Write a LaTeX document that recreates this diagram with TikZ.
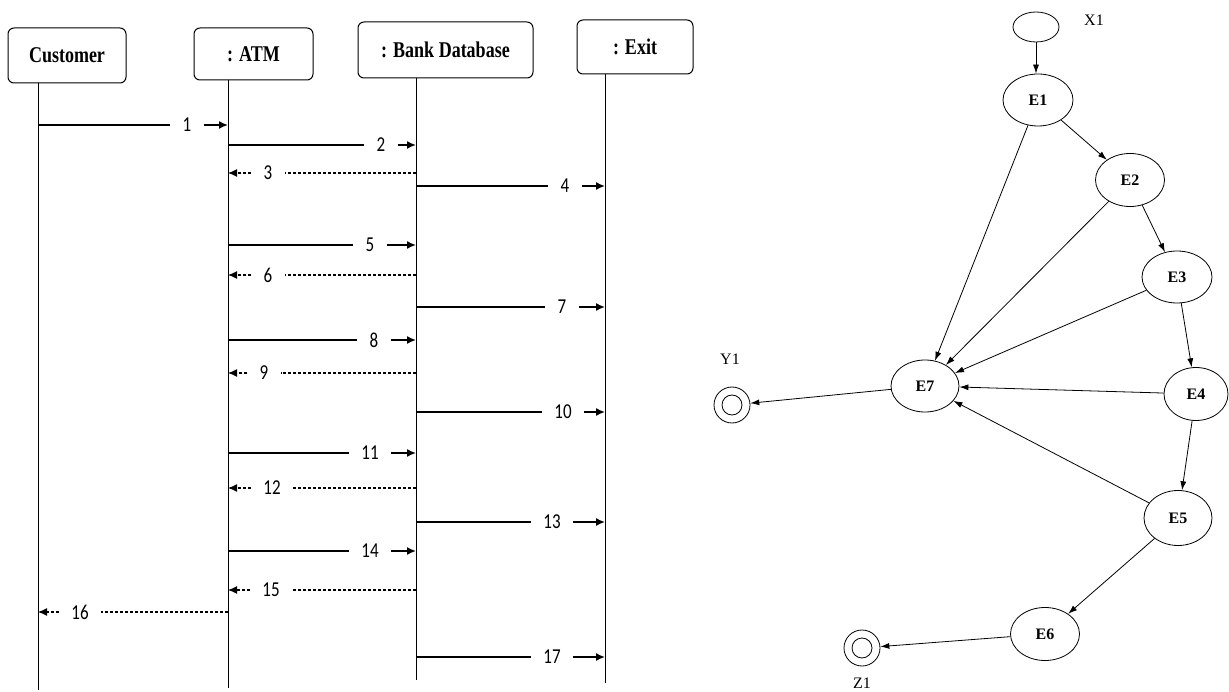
\documentclass[tikz,border=0pt]{standalone}
\usepackage{fontspec}
\setmainfont{Liberation Serif}
\newfontfamily\numfont{Carlito}
\usepackage{graphicx}
\usetikzlibrary{shapes.geometric,arrows.meta}
\newcommand\vstretch[1]{\scalebox{1}[1.25]{#1}}
\newcommand\fwdmsg[6]{%
  \node[num] (#1) at (#5,#4) {\vstretch{#6}};
  \draw[msg] (#2 |- #1.center) -- (#1.west);
  \draw[msgtip] (#1.east) -- (#3 |- #1.center);
}
\newcommand\retmsg[6]{%
  \node[num] (#1) at (#5,#4) {\vstretch{#6}};
  \draw[ret] (#2 |- #1.center) -- (#1.east);
  \draw[rettip] (#1.west) -- (#3 |- #1.center);
}
\tikzset{
  actor/.style={draw, rounded corners=6pt, line width=1pt, inner sep=0pt,
    font=\fontsize{18}{20}\selectfont\bfseries},
  life/.style={line width=1pt},
  num/.style={inner xsep=12pt, inner ysep=0pt, font=\numfont\fontsize{17}{18}\selectfont},
  msg/.style={line width=1.3pt},
  msgtip/.style={line width=1.6pt, -{Latex[length=9pt,width=8pt]}},
  ret/.style={line width=1.2pt, dash pattern=on 3pt off 2pt},
  rettip/.style={ret, -{Latex[length=9pt,width=8pt]}},
  st/.style={draw, ellipse, line width=0.8pt, inner sep=0pt,
    font=\fontsize{16}{18}\selectfont\bfseries},
  edge/.style={line width=0.8pt, -{Latex[length=9pt,width=6pt]}},
  term/.style={draw, circle, line width=0.8pt, minimum size=36pt, inner sep=0pt,
    path picture={\draw[line width=0.8pt] (path picture bounding box.center) circle (10pt);}},
  lbl/.style={font=\fontsize{16}{18}\selectfont, inner sep=0pt}
}
\begin{document}
\begin{tikzpicture}[x=1pt, y=-1pt]
\useasboundingbox (0,0) rectangle (1229,692);
% ---------- sequence diagram ----------
\node[actor, minimum width=118pt, minimum height=55pt] (cust) at (67,55.5) {\vstretch{Customer}};
\node[actor, minimum width=119pt, minimum height=52pt] (atm) at (253.5,54) {\vstretch{: ATM}};
\node[actor, minimum width=175pt, minimum height=56pt] (bank) at (445.5,50) {\vstretch{: Bank Database}};
\node[actor, minimum width=116pt, minimum height=54pt] (exit) at (635,47) {\vstretch{: Exit}};
\coordinate (lc) at (38,83);  \coordinate (lcB) at (38,690);
\coordinate (la) at (228,80); \coordinate (laB) at (228,688);
\coordinate (lb) at (416,78); \coordinate (lbB) at (416,680);
\coordinate (le) at (605,74); \coordinate (leB) at (605,683);
\draw[life] (lc) -- (lcB);
\draw[life] (la) -- (laB);
\draw[life] (lb) -- (lbB);
\draw[life] (le) -- (leB);
\fwdmsg{m1}{lc}{la}{125}{187}{1}
\fwdmsg{m2}{la}{lb}{145}{381}{2}
\retmsg{m3}{lb}{la}{173}{268}{3}
\fwdmsg{m4}{lb}{le}{186}{565}{4}
\fwdmsg{m5}{la}{lb}{245}{370}{5}
\retmsg{m6}{lb}{la}{275}{268}{6}
\fwdmsg{m7}{lb}{le}{307}{562}{7}
\fwdmsg{m8}{la}{lb}{340}{374}{8}
\retmsg{m9}{lb}{la}{373}{264}{9}
\fwdmsg{m10}{lb}{le}{412}{563}{10}
\fwdmsg{m11}{la}{lb}{453}{370}{11}
\retmsg{m12}{lb}{la}{488}{272}{12}
\fwdmsg{m13}{lb}{le}{522}{552}{13}
\fwdmsg{m14}{la}{lb}{551}{370}{14}
\retmsg{m15}{lb}{la}{590}{271}{15}
\retmsg{m16}{la}{lc}{612}{80}{16}
\fwdmsg{m17}{lb}{le}{657}{552}{17}
% ---------- graph ----------
\node[st, minimum width=46pt, minimum height=30pt] (X1) at (1036,27) {};
\node[st, minimum width=70pt, minimum height=52pt] (E1) at (1038,100) {E1};
\node[st, minimum width=69pt, minimum height=53pt] (E2) at (1130,180) {E2};
\node[st, minimum width=70pt, minimum height=52pt] (E3) at (1177,277) {E3};
\node[st, minimum width=64pt, minimum height=53pt] (E4) at (1196,394) {E4};
\node[st, minimum width=68pt, minimum height=55pt] (E5) at (1178,518) {E5};
\node[st, minimum width=69pt, minimum height=53pt] (E6) at (1045,634) {E6};
\node[st, minimum width=68pt, minimum height=52pt] (E7) at (925,386) {E7};
\node[term] (Y1) at (732,405) {};
\node[term] (Z1) at (862,648) {};
\node[lbl] (X1l) at (1094,20) {X1};
\node[lbl] (Y1l) at (730,359) {Y1};
\node[lbl] (Z1l) at (862,683) {Z1};
\draw[edge] (X1.south) -- (X1.south |- E1.north);
\draw[edge] (E1) -- (E2);
\draw[edge] (E1) -- (E7);
\draw[edge] (E2) -- (E3);
\draw[edge] (E2) -- (E7);
\draw[edge] (E3) -- (E4);
\draw[edge] (E3) -- (E7);
\draw[edge] (E4) -- (E7);
\draw[edge] (E4) -- (E5);
\draw[edge] (E5) -- (E7);
\draw[edge] (E5) -- (E6);
\draw[edge] (E6) -- (Z1);
\draw[edge] (E7) -- (Y1);
\end{tikzpicture}
\end{document}
